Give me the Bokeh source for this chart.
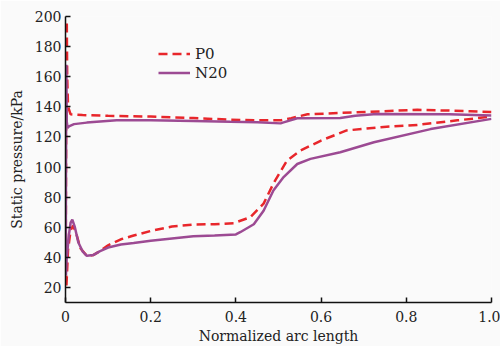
from bokeh.plotting import figure
from bokeh.models import Range1d, Legend, LegendItem
from bokeh.embed import file_html
from bokeh.resources import INLINE

# P0 loop: pressure side (trailing -> leading edge), stagnation spike, suction side
p0_x = [1.0, 0.95, 0.9, 0.826, 0.74, 0.65, 0.568, 0.53, 0.505, 0.45, 0.387, 0.3, 0.2, 0.1, 0.04, 0.012,
        0.006, 0.004, 0.003, 0.002, 0.0012, 0.0008, 0.002,
        0.006, 0.012, 0.018, 0.025, 0.035, 0.05, 0.065, 0.08, 0.1, 0.13, 0.16, 0.2, 0.25, 0.3, 0.35,
        0.395, 0.434, 0.465, 0.488, 0.52, 0.552, 0.6, 0.66, 0.74, 0.826, 0.92, 1.0]
p0_y = [136.5, 137, 137.5, 138, 137, 136, 135, 132.5, 131, 131, 131.5, 132.5, 133.5, 134, 134.5, 135,
        140, 160, 197, 150, 100, 60, 20,
        45, 58, 61, 56, 46, 41, 41.5, 44, 48, 52, 54.5, 57.5, 60.5, 61.8, 62,
        62.7, 66.7, 75.7, 89, 104.3, 111, 117.6, 124.3, 126.5, 128, 131, 133.5]

n20_x = [1.0, 0.9, 0.73, 0.68, 0.645, 0.544, 0.51, 0.505, 0.45, 0.387, 0.3, 0.2, 0.12, 0.05, 0.02, 0.008,
         0.005, 0.003, 0.002, 0.0012, 0.0008, 0.001,
         0.003, 0.008, 0.012, 0.016, 0.022, 0.03, 0.04, 0.05, 0.065, 0.08, 0.1, 0.13, 0.16, 0.2, 0.25,
         0.3, 0.35, 0.4, 0.41, 0.442, 0.465, 0.488, 0.512, 0.544, 0.575, 0.645, 0.724, 0.857, 1.0]
n20_y = [134.3, 135, 135.3, 134, 132.5, 132.4, 129.5, 129, 129.8, 130, 130.5, 131, 131, 129.5, 128.5, 127,
         126, 130, 168, 100, 60, 28,
         40, 55, 63, 65, 60, 50, 44, 41, 41.5, 44, 46.5, 48.5, 49.5, 51, 52.5,
         54, 54.5, 55.2, 56.7, 62, 71, 84.4, 93.3, 102, 105.4, 109.8, 116.5, 125.2, 132]

y_ticks = [20, 40, 60, 80, 100, 120, 140, 160, 180, 200]
x_ticks = [0, 0.2, 0.4, 0.6, 0.8, 1.0]
x_tick_labels = {0: "0", 0.2: "0.2", 0.4: "0.4", 0.6: "0.6", 0.8: "0.8", 1.0: "1.0"}

FONT = "DejaVu Serif"
BG = "#fafafa"

p = figure(width=500, height=346, output_backend="svg", toolbar_location=None,
           x_range=Range1d(0, 1.0), y_range=Range1d(10, 200),
           min_border_left=65, min_border_right=9, min_border_top=16, min_border_bottom=44,
           background_fill_color=BG, border_fill_color=BG, outline_line_color=None)
p.grid.visible = False

r1 = p.line(p0_x, p0_y, line_color="#e8262b", line_width=2.5, line_dash="9 5")
r2 = p.line(n20_x, n20_y, line_color="#9c4a93", line_width=2.5)

for ax in (p.xaxis[0], p.yaxis[0]):
    ax.axis_line_width = 1.5
    ax.axis_line_color = "#111111"
    ax.major_tick_in = 5
    ax.major_tick_out = 0
    ax.major_tick_line_width = 1.5
    ax.major_tick_line_color = "#111111"
    ax.minor_tick_line_color = None
    ax.major_label_text_font = FONT
    ax.major_label_text_font_size = "14px"
    ax.major_label_text_color = "#222222"
    ax.axis_label_text_font = FONT
    ax.axis_label_text_font_size = "14px"
    ax.axis_label_text_font_style = "normal"
    ax.axis_label_text_color = "#222222"

p.xaxis.ticker = x_ticks
p.xaxis.major_label_overrides = x_tick_labels
p.yaxis.ticker = y_ticks
p.xaxis.axis_label = "Normalized arc length"
p.yaxis.axis_label = "Static pressure/kPa"
p.xaxis.major_label_standoff = 8
p.xaxis.axis_label_standoff = 3
p.yaxis.major_label_standoff = 4
p.yaxis.axis_label_standoff = 7

legend = Legend(items=[LegendItem(label="P0", renderers=[r1]), LegendItem(label="N20", renderers=[r2])],
                location=(93, 220), padding=0, margin=0, spacing=0,
                glyph_width=32, glyph_height=19, label_height=19, label_standoff=5,
                label_text_font=FONT, label_text_font_size="15px", label_text_color="#222222",
                background_fill_alpha=0, border_line_color=None)
p.add_layout(legend)

open("out.html", "w").write(file_html(p, INLINE))
